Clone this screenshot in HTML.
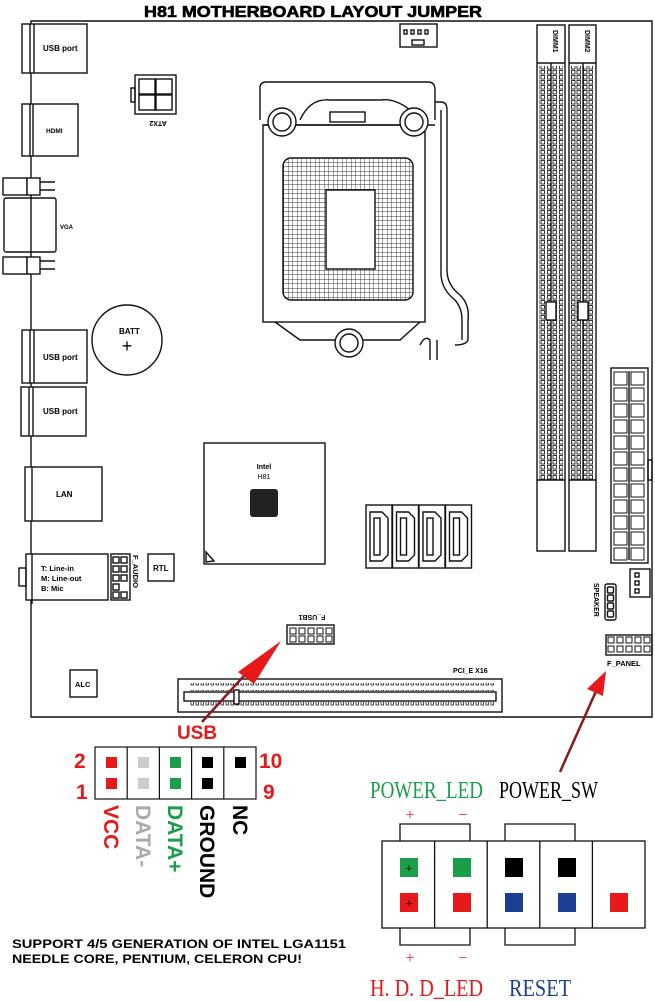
<!DOCTYPE html>
<html><head><meta charset="utf-8"><style>
html,body{margin:0;padding:0;background:#fff;}
svg{display:block;}
text{font-family:"Liberation Sans",Arial,sans-serif;}
.b{font-weight:bold;}
.sf text, text.sf{font-family:"Liberation Serif",serif;}
</style></head><body>
<svg width="655" height="1001" viewBox="0 0 655 1001" xmlns="http://www.w3.org/2000/svg">
<defs>
<pattern id="grid" width="4.5" height="4.5" patternUnits="userSpaceOnUse">
<rect width="4.5" height="4.5" fill="#fff"/><path d="M0 0H4.5M0 0V4.5" stroke="#333" stroke-width="0.9"/>
</pattern>
<pattern id="teeth" width="12" height="5" patternUnits="userSpaceOnUse">
<rect x="1" y="0.5" width="3.5" height="3.5" fill="none" stroke="#222" stroke-width="0.9"/>
<rect x="7.5" y="0.5" width="3.5" height="3.5" fill="none" stroke="#222" stroke-width="0.9"/>
</pattern>
<pattern id="pteeth" width="5" height="10" patternUnits="userSpaceOnUse">
<rect x="1" y="0" width="2.5" height="5" fill="none" stroke="#222" stroke-width="0.8"/>
</pattern>
</defs>
<g fill="none" stroke="#111" stroke-width="1.4">
<path d="M31 21H652V717H31Z"/>
<rect x="22" y="24" width="65" height="49" fill="#fff"/><path d="M30 24V73M34 24V73"/>
<rect x="22" y="330" width="65" height="53" fill="#fff"/><path d="M30 330V383M34 330V383"/>
<rect x="21" y="387" width="65" height="49" fill="#fff"/><path d="M29 387V436M33 387V436"/>
<rect x="22" y="104" width="56" height="52" fill="#fff"/><path d="M30 104V156M33 104V156"/>
<rect x="3" y="178" width="24" height="17" fill="#fff"/><rect x="27" y="178" width="13" height="17" fill="#fff"/><path d="M40 182H55M40 190H55"/>
<rect x="4" y="198" width="52" height="54" rx="2" fill="#fff"/><path d="M31 198V252"/>
<rect x="3" y="257" width="24" height="17" fill="#fff"/><rect x="27" y="257" width="13" height="17" fill="#fff"/><path d="M40 261H55M40 269H55"/>
<rect x="135" y="75" width="41" height="39"/><rect x="131" y="88" width="4" height="14"/>
<rect x="139" y="79" width="16" height="15"/><rect x="156" y="79" width="16" height="15"/>
<rect x="139" y="95" width="16" height="15"/><rect x="156" y="95" width="16" height="15"/>
<rect x="400" y="24" width="37" height="23"/><rect x="412" y="40" width="12" height="5"/>
<rect x="404" y="30" width="3" height="4"/><rect x="411" y="30" width="3" height="4"/><rect x="418" y="30" width="3" height="4"/><rect x="425" y="30" width="3" height="4"/>
<path d="M260 120V88Q260 82 266 82H428Q435 82 435 90V120"/>
<path d="M263 125H435"/>
<rect x="263" y="125" width="162" height="197"/>
<path d="M275 322L300 340H400L420 322"/>
<path d="M300 120Q310 98 330 100H380Q395 98 410 110"/>
<rect x="330" y="112" width="35" height="10"/>
<rect x="283" y="158" width="130" height="142" rx="8" fill="url(#grid)"/>
<rect x="326" y="190" width="49" height="79" fill="#fff"/>
<circle cx="282" cy="122" r="14" fill="#fff"/><circle cx="282" cy="122" r="9"/>
<circle cx="414" cy="122" r="14" fill="#fff"/><circle cx="414" cy="122" r="9"/>
<circle cx="349" cy="343" r="14" fill="#fff"/><circle cx="349" cy="343" r="9"/>
<path d="M435 102H441Q447 102 447 110V270Q447 285 460 295Q470 305 468 320V340Q466 345 455 345"/>
<path d="M441 110V275Q442 290 455 300Q462 308 462 320V340"/>
<path d="M430 340V360M437 340V360M420 345Q425 335 430 340"/>
<rect x="537" y="25" width="28" height="526" fill="#fff"/><path d="M537 63H565"/>
<rect x="569" y="25" width="27" height="526" fill="#fff"/><path d="M569 63H596"/>
<rect x="539" y="66" width="24" height="414" fill="url(#teeth)" stroke="none"/>
<rect x="571" y="66" width="24" height="414" fill="url(#teeth)" stroke="none"/>
<path d="M551 63V480M583 63V480M537 480H565M569 480H596"/>
<rect x="546" y="302" width="10" height="18" fill="#fff"/><rect x="578" y="302" width="10" height="18" fill="#fff"/>
<circle cx="127" cy="340" r="35"/>
<rect x="25" y="467" width="77" height="54" fill="#fff"/><path d="M32 467V521"/>
<rect x="26" y="554" width="82" height="46" fill="#fff"/><rect x="19" y="568" width="7" height="18"/><path d="M32 554V604"/>
<rect x="111" y="554" width="19" height="46"/>
<rect x="113" y="557" width="6" height="6"/><rect x="121" y="557" width="6" height="6"/>
<rect x="113" y="566" width="6" height="6"/><rect x="121" y="566" width="6" height="6"/>
<rect x="113" y="575" width="6" height="6"/><rect x="121" y="575" width="6" height="6"/>
<rect x="113" y="584" width="6" height="6"/>
<rect x="113" y="592" width="6" height="6"/><rect x="121" y="592" width="6" height="6"/>
<rect x="148" y="554" width="26" height="27"/>
<rect x="204" y="443" width="121" height="121"/>
<path d="M206 562L206 552L214 561Z"/>
<g id="sata"><rect x="366" y="505" width="26" height="63"/><path d="M370 512H382L388 518V555L382 561H370Z"/><rect x="374" y="518" width="6" height="37"/></g>
<use href="#sata" x="26.5"/><use href="#sata" x="53"/><use href="#sata" x="79.5"/>
<rect x="611" y="368" width="37" height="195" fill="#fff"/><rect x="648" y="460" width="4" height="20"/>
<path d="M629 371V560"/>
<g stroke-width="1">
<path d="M614 372h13v13h-13zM631 372h13v13h-13zM614 388h13v13h-13zM631 388h13v13h-13zM614 404h13v13h-13zM631 404h13v13h-13zM614 420h13v13h-13zM631 420h13v13h-13zM614 436h13v13h-13zM631 436h13v13h-13zM614 452h13v13h-13zM631 452h13v13h-13zM614 468h13v13h-13zM631 468h13v13h-13zM614 484h13v13h-13zM631 484h13v13h-13zM614 500h13v13h-13zM631 500h13v13h-13zM614 516h13v13h-13zM631 516h13v13h-13zM614 532h13v13h-13zM631 532h13v13h-13zM614 548h13v12h-13zM631 548h13v12h-13z"/>
</g>
<rect x="630" y="569" width="20" height="28"/><rect x="635" y="573" width="4" height="4"/><rect x="635" y="581" width="4" height="4"/><rect x="635" y="589" width="4" height="4"/>
<rect x="605" y="584" width="11" height="36" rx="2"/>
<rect x="607.5" y="587" width="6" height="6" rx="1"/><rect x="607.5" y="595" width="6" height="6" rx="1"/><rect x="607.5" y="603" width="6" height="6" rx="1"/><rect x="607.5" y="611" width="6" height="6" rx="1"/>
<rect x="287" y="625" width="47" height="19"/>
<g stroke-width="1"><rect x="290" y="628" width="6" height="6"/><rect x="299" y="628" width="6" height="6"/><rect x="308" y="628" width="6" height="6"/><rect x="317" y="628" width="6" height="6"/><rect x="326" y="628" width="6" height="6"/>
<rect x="290" y="636" width="6" height="6"/><rect x="299" y="636" width="6" height="6"/><rect x="308" y="636" width="6" height="6"/><rect x="317" y="636" width="6" height="6"/><rect x="326" y="636" width="6" height="6"/></g>
<rect x="606" y="635" width="46" height="20"/>
<g stroke-width="1"><rect x="608" y="637" width="6" height="6"/><rect x="617" y="637" width="6" height="6"/><rect x="626" y="637" width="6" height="6"/><rect x="635" y="637" width="6" height="6"/><rect x="644" y="637" width="6" height="6"/>
<rect x="608" y="646" width="6" height="6"/><rect x="617" y="646" width="6" height="6"/><rect x="626" y="646" width="6" height="6"/><rect x="635" y="646" width="6" height="6"/><rect x="644" y="646" width="6" height="6"/></g>
<rect x="70" y="670" width="27" height="27"/>
<rect x="178" y="679" width="324" height="33" fill="#fff"/>
<rect x="184" y="692" width="312" height="9"/>
<rect x="190" y="683" width="305" height="8" fill="url(#pteeth)" stroke="none"/>
<rect x="190" y="702" width="305" height="8" fill="url(#pteeth)" stroke="none"/>
<rect x="234" y="690" width="5" height="14" fill="#fff"/>
</g>
<rect x="250" y="489" width="28" height="28" rx="3" fill="#222"/>
<text x="313" y="17" text-anchor="middle" class="b" font-size="16" stroke="#000" stroke-width="0.6" textLength="338" lengthAdjust="spacingAndGlyphs">H81 MOTHERBOARD LAYOUT JUMPER</text>
<g font-size="8" class="b">
<text x="43" y="51">USB port</text>
<text x="43" y="360">USB port</text>
<text x="43" y="414">USB port</text>
<text x="46" y="133" font-size="6.5">HDMI</text>
<text x="60" y="229" font-size="6">VGA</text>
<text x="56" y="497">LAN</text>
<text x="41" y="571" font-size="7.5">T: Line-in</text>
<text x="41" y="581" font-size="7.5">M: Line-out</text>
<text x="41" y="591" font-size="7.5">B: Mic</text>
<text x="153" y="571">RTL</text>
<text x="75" y="687" font-size="7.5">ALC</text>
<text x="264" y="469" font-size="7" text-anchor="middle">Intel</text>
<text x="264" y="479" font-size="7" text-anchor="middle" font-weight="normal">H81</text>
<text x="453" y="673" font-size="7">PCI_E X16</text>
<text x="607" y="666" font-size="7.5">F_PANEL</text>
<text transform="translate(158,121) rotate(180)" font-size="7" text-anchor="middle">ATX2</text>
<text transform="translate(312,615) rotate(180)" font-size="7" text-anchor="middle">F_USB1</text>
<text transform="translate(133,555) rotate(90)" font-size="7.5">F_AUDIO</text>
<text transform="translate(594,583) rotate(90)" font-size="7">SPEAKER</text>
<text transform="translate(553,30) rotate(90)" font-size="7">DIMM1</text>
<text transform="translate(585,30) rotate(90)" font-size="7">DIMM2</text>
<text x="119" y="334" font-size="8">BATT</text>
</g>
<text x="127" y="352" font-size="18" text-anchor="middle">+</text>
<path d="M202 722L262 656" stroke="#8b1a1a" stroke-width="2.5"/>
<path d="M281 641L238 672L254 684Z" fill="#e8191b"/>
<path d="M560 772L597 689" stroke="#8b1a1a" stroke-width="2.5"/>
<path d="M606 671L587 689L603 696Z" fill="#e8191b"/>
<text x="197" y="739" class="b" font-size="19" fill="#e8191b" text-anchor="middle">USB</text>
<rect x="95" y="747" width="161" height="52" fill="none" stroke="#111" stroke-width="1.2"/>
<path d="M127.2 747V799M159.4 747V799M191.6 747V799M223.8 747V799" stroke="#111" stroke-width="1.2"/>
<rect x="106" y="757" width="11" height="11" fill="#e8191b"/><rect x="106" y="778" width="11" height="11" fill="#e8191b"/>
<rect x="138" y="757" width="11" height="11" fill="#ccc"/><rect x="138" y="778" width="11" height="11" fill="#ccc"/>
<rect x="170" y="757" width="11" height="11" fill="#1a9e4a"/><rect x="170" y="778" width="11" height="11" fill="#1a9e4a"/>
<rect x="202" y="757" width="11" height="11" fill="#000"/><rect x="202" y="778" width="11" height="11" fill="#000"/>
<rect x="235" y="757" width="11" height="11" fill="#000"/>
<g class="b" font-size="21" fill="#e8191b">
<text x="74" y="768">2</text><text x="76" y="799">1</text>
<text x="259" y="768">10</text><text x="263" y="799">9</text>
</g>
<g class="b" font-size="21">
<text transform="translate(104,805) rotate(90)" fill="#e8191b">VCC</text>
<text transform="translate(136,805) rotate(90)" fill="#aaa">DATA-</text>
<text transform="translate(168,805) rotate(90)" fill="#1a9e4a">DATA+</text>
<text transform="translate(200,805) rotate(90)" fill="#000">GROUND</text>
<text transform="translate(233,805) rotate(90)" fill="#000">NC</text>
</g>
<g class="b" font-size="11.5">
<text x="12" y="948" textLength="334" lengthAdjust="spacingAndGlyphs">SUPPORT 4/5 GENERATION OF INTEL LGA1151</text>
<text x="12" y="963" textLength="290" lengthAdjust="spacingAndGlyphs">NEEDLE CORE, PENTIUM, CELERON CPU!</text>
</g>
<g class="sf" font-size="24">
<text x="370" y="798" fill="#1a9e4a" textLength="113" lengthAdjust="spacingAndGlyphs">POWER_LED</text>
<text x="499" y="798" fill="#000" textLength="99" lengthAdjust="spacingAndGlyphs">POWER_SW</text>
<text x="370" y="996" fill="#e8191b" textLength="113" lengthAdjust="spacingAndGlyphs">H. D. D_LED</text>
<text x="509" y="996" fill="#1c3f94" textLength="62" lengthAdjust="spacingAndGlyphs">RESET</text>
</g>
<g fill="#e8191b" font-size="16" class="sf">
<text x="410" y="820" text-anchor="middle">+</text><text x="463" y="820" text-anchor="middle">−</text>
<text x="410" y="963" text-anchor="middle">+</text><text x="463" y="963" text-anchor="middle">−</text>
</g>
<g fill="none" stroke="#111" stroke-width="1.3">
<path d="M400 841V824H470V841M505 841V824H575V841"/>
<path d="M400 928V945H470V928M505 928V945H575V928"/>
<rect x="382" y="841" width="263" height="87"/>
<path d="M434.6 841V928M487.2 841V928M539.8 841V928M592.4 841V928"/>
</g>
<rect x="400" y="858" width="18" height="19" fill="#1a9e4a"/><rect x="453" y="858" width="18" height="19" fill="#1a9e4a"/>
<rect x="505" y="858" width="18" height="19" fill="#000"/><rect x="558" y="858" width="18" height="19" fill="#000"/>
<rect x="400" y="893" width="18" height="19" fill="#e8191b"/><rect x="453" y="893" width="18" height="19" fill="#e8191b"/>
<rect x="505" y="893" width="18" height="19" fill="#1c3f94"/><rect x="558" y="893" width="18" height="19" fill="#1c3f94"/>
<rect x="610" y="893" width="18" height="19" fill="#e8191b"/>
<text x="409" y="872" font-size="11" text-anchor="middle">+</text>
<text x="409" y="907" font-size="11" text-anchor="middle">+</text>
</svg>
</body></html>
